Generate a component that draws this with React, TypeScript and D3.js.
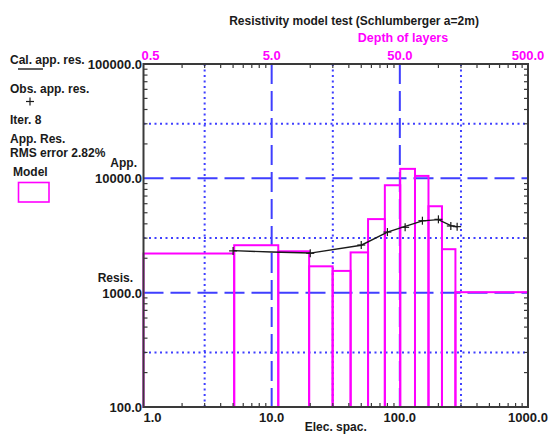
import React from "react";
import * as d3 from "d3";

// Axis ticks
const spacingTicks = [1, 10, 100, 1000];
const spacingLabels = ["1.0", "10.0", "100.0", "1000.0"];
const depthTicks = [0.5, 5, 50, 500];
const depthLabels = ["0.5", "5.0", "50.0", "500.0"];
const resTicks = [100, 1000, 10000, 100000];
const resLabels = ["100.0", "1000.0", "10000.0", "100000.0"];

// Layered model: bottom depth of each layer (m) and layer resistivity (ohm.m)
const layerBottoms = [2.55, 5.63, 9.8, 14.95, 20.65, 28.25, 38.2, 50.35, 65.65, 83.65, 106.6, 135.75];
const layerRes = [2200, 2600, 2300, 1700, 1550, 2250, 4400, 8700, 12100, 10500, 5700, 2400, 1010];

// Observed apparent resistivity
const obsSpacing = [5, 20, 50, 80, 110, 150, 200, 250, 280];
const obsRes = [2320, 2210, 2610, 3390, 3730, 4260, 4380, 3830, 3780];

// Calculated apparent resistivity
const calSpacing = [5, 10, 20, 50, 80, 110, 150, 200, 250, 280];
const calRes = [2330, 2270, 2220, 2600, 3380, 3800, 4250, 4350, 3860, 3770];

const W = 549;
const H = 434;
const L = 143.5;
const R = 528;
const T = 64;
const B = 407;

const FONT = "'Liberation Sans', Arial, sans-serif";
const MAGENTA = "#ff00ff";
const BLUE = "#3f3fff";
const AXIS = "#3a3a3a";
const INK = "#1a1a1a";

export default function App() {
  const x = d3.scaleLog().domain([1, 1000]).range([L, R]);
  const xd = d3.scaleLog().domain([0.5, 500]).range([L, R]);
  const y = d3.scaleLog().domain([100, 100000]).range([B, T]);

  const minorX: number[] = [];
  for (const dec of [1, 10, 100]) for (let k = 2; k <= 9; k++) minorX.push(dec * k);
  const minorD: number[] = [];
  for (const dec of [0.5, 5, 50]) for (let k = 2; k <= 9; k++) minorD.push(dec * k);
  const minorY: number[] = [];
  for (const dec of [100, 1000, 10000]) for (let k = 2; k <= 9; k++) minorY.push(dec * k);

  const dashedX = [10, 100];
  const dottedX = [3, 30, 300];
  const dashedY = [1000, 10000];
  const dottedY = [300, 3000, 30000];

  const tops = [0.5, ...layerBottoms];
  const bottoms = [...layerBottoms, 500];

  const line = d3
    .line<number>()
    .x((_, i) => x(calSpacing[i]))
    .y((v) => y(v));

  const txt = { fontFamily: FONT, fontWeight: 700, fill: INK } as const;

  return (
    <svg
      width={W}
      height={H}
      style={{ position: "absolute", left: 0, top: 0, background: "#fff" }}
    >
      <rect x={0} y={0} width={W} height={H} fill="#fff" />

      {/* grid */}
      {dottedX.map((v) => (
        <line key={"dx" + v} x1={x(v)} x2={x(v)} y1={T} y2={B} stroke={BLUE} strokeWidth={2} strokeDasharray="2 3.5" />
      ))}
      {dottedY.map((v) => (
        <line key={"dy" + v} x1={L} x2={R} y1={y(v)} y2={y(v)} stroke={BLUE} strokeWidth={2} strokeDasharray="2 3.5" />
      ))}
      {dashedX.map((v) => (
        <line key={"ax" + v} x1={x(v)} x2={x(v)} y1={T} y2={B} stroke={BLUE} strokeWidth={2} strokeDasharray="20 7" />
      ))}
      {dashedY.map((v) => (
        <line key={"ay" + v} x1={L} x2={R} y1={y(v)} y2={y(v)} stroke={BLUE} strokeWidth={2} strokeDasharray="20 7" />
      ))}

      {/* layered model */}
      {layerRes.map((r, i) => (
        <rect
          key={"m" + i}
          x={xd(tops[i])}
          y={y(r)}
          width={xd(bottoms[i]) - xd(tops[i])}
          height={B - y(r)}
          fill="none"
          stroke={MAGENTA}
          strokeWidth={2}
        />
      ))}

      {/* calculated curve */}
      <path d={line(calRes) || ""} fill="none" stroke={INK} strokeWidth={1.4} />

      {/* observed points */}
      {obsRes.map((v, i) => {
        const cx = x(obsSpacing[i]);
        const cy = y(v);
        return (
          <g key={"o" + i} stroke={INK} strokeWidth={1.2}>
            <line x1={cx - 4} x2={cx + 4} y1={cy} y2={cy} />
            <line x1={cx} x2={cx} y1={cy - 4} y2={cy + 4} />
          </g>
        );
      })}

      {/* frame */}
      <rect x={L} y={T} width={R - L} height={B - T} fill="none" stroke={AXIS} strokeWidth={2} />

      {/* minor ticks */}
      {minorX.map((v) => (
        <line key={"tb" + v} x1={x(v)} x2={x(v)} y1={B} y2={B - 4} stroke={AXIS} strokeWidth={1.2} />
      ))}
      {minorD.map((v) => (
        <line key={"tt" + v} x1={xd(v)} x2={xd(v)} y1={T} y2={T + 4} stroke={AXIS} strokeWidth={1.2} />
      ))}
      {minorY.map((v) => (
        <g key={"ty" + v}>
          <line x1={L} x2={L + 4} y1={y(v)} y2={y(v)} stroke={AXIS} strokeWidth={1.2} />
          <line x1={R} x2={R - 4} y1={y(v)} y2={y(v)} stroke={AXIS} strokeWidth={1.2} />
        </g>
      ))}

      {/* bottom axis labels */}
      {spacingTicks.map((v, i) => (
        <text
          key={"bl" + v}
          x={x(v)}
          y={422}
          textAnchor={i === 0 ? "start" : "middle"}
          fontSize={13}
          {...txt}
        >
          {spacingLabels[i]}
        </text>
      ))}
      <text x={(L + R) / 2} y={431} textAnchor="middle" fontSize={12} {...txt}>
        Elec. spac.
      </text>

      {/* top axis labels */}
      {depthTicks.map((v, i) => (
        <text
          key={"tl" + v}
          x={i === 0 ? xd(v) - 2 : xd(v)}
          y={60}
          textAnchor={i === 0 ? "start" : "middle"}
          fontSize={13}
          fontFamily={FONT}
          fontWeight={700}
          fill={MAGENTA}
        >
          {depthLabels[i]}
        </text>
      ))}
      <text x={403} y={41.5} textAnchor="middle" fontSize={12.5} fontFamily={FONT} fontWeight={700} fill={MAGENTA}>
        Depth of layers
      </text>
      <text x={354} y={24.5} textAnchor="middle" fontSize={12} {...txt}>
        Resistivity model test (Schlumberger a=2m)
      </text>

      {/* left axis labels */}
      {resTicks.map((v, i) => (
        <text key={"yl" + v} x={142} y={y(v) + 5} textAnchor="end" fontSize={13} {...txt}>
          {resLabels[i]}
        </text>
      ))}
      <text x={137} y={167} textAnchor="end" fontSize={12} {...txt}>
        App.
      </text>
      <text x={133} y={282} textAnchor="end" fontSize={12} {...txt}>
        Resis.
      </text>

      {/* legend */}
      <text x={10} y={63.5} fontSize={12} {...txt}>
        Cal. app. res.
      </text>
      <line x1={18} x2={43} y1={69} y2={69} stroke={INK} strokeWidth={1.4} />
      <text x={10} y={93} fontSize={12} {...txt}>
        Obs. app. res.
      </text>
      <g stroke={INK} strokeWidth={1.2}>
        <line x1={26} x2={34} y1={101.5} y2={101.5} />
        <line x1={30} x2={30} y1={97.5} y2={105.5} />
      </g>
      <text x={10} y={124} fontSize={12} {...txt}>
        Iter. 8
      </text>
      <text x={10} y={143} fontSize={12} {...txt}>
        App. Res.
      </text>
      <text x={10} y={156.5} fontSize={12} {...txt}>
        RMS error 2.82%
      </text>
      <text x={13} y={176} fontSize={12} {...txt}>
        Model
      </text>
      <rect x={18.5} y={182.5} width={30.5} height={19.5} fill="none" stroke={MAGENTA} strokeWidth={1.6} />
    </svg>
  );
}
